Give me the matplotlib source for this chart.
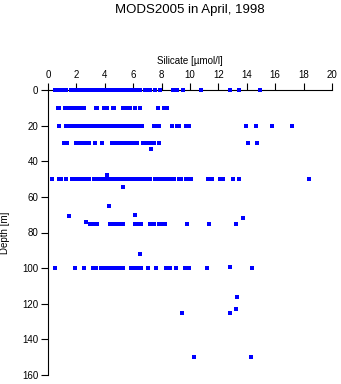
import numpy as np
import matplotlib
matplotlib.use('Agg')
import matplotlib.pyplot as plt

plt.rcParams['font.family'] = ['Liberation Sans', 'DejaVu Sans']

# Silicate readings [umol/l] grouped by sampling depth [m]
row_0 = [0.5, 0.6, 0.7, 0.8, 0.9, 1.0, 1.1, 1.2, 1.3,
         1.6, 1.7, 1.8, 1.9, 2.0, 2.1, 2.2, 2.3, 2.4, 2.5, 2.6, 2.7, 2.8, 2.9, 3.0, 3.1, 3.2,
         3.3, 3.4, 3.5, 3.6, 3.7, 3.8, 3.9, 4.0, 4.1, 4.2, 4.3, 4.4, 4.5, 4.6, 4.7, 4.8,
         4.9, 5.0, 5.1, 5.2, 5.3, 5.4, 5.5, 5.7, 5.85, 6.1, 6.25, 6.4, 6.5,
         6.85, 7.0, 7.2, 7.5, 7.9, 8.8, 9.1, 9.5, 10.75, 12.85, 13.45, 14.9]
row_10 = [0.7, 0.8, 1.2, 1.3, 1.45, 1.6, 1.85, 1.95, 2.05, 2.15, 2.25, 2.5,
          3.35, 3.45, 3.95, 4.05, 4.15, 4.55, 4.65, 5.25, 5.35, 5.5, 5.75,
          6.15, 6.45, 7.75, 8.15, 8.3, 8.4]
row_20 = [0.75, 1.3, 1.4, 1.5, 1.6, 1.7, 1.8, 1.9, 2.0, 2.1, 2.2, 2.3, 2.4, 2.5, 2.6,
          2.7, 2.8, 2.9, 3.0, 3.1, 3.2, 3.3, 3.4, 3.5, 3.6, 3.7, 3.8, 3.9, 4.0, 4.1,
          4.2, 4.3, 4.4, 4.5, 4.6, 4.7, 4.8, 4.9, 5.0, 5.1, 5.2, 5.3, 5.4, 5.5, 5.6,
          5.7, 5.8, 5.95, 6.1, 6.35, 6.5, 6.65, 7.45, 7.6, 7.8, 8.75, 9.1, 9.2,
          9.7, 9.9, 13.95, 14.65, 15.8, 17.2]
row_30 = [1.1, 1.2, 1.35, 1.95, 2.05, 2.15, 2.25, 2.4, 2.5, 2.6, 2.75, 2.9, 3.3, 3.8,
          4.5, 4.6, 4.7, 4.8, 4.95, 5.05, 5.2, 5.4, 5.5, 5.7, 6.0, 6.3, 6.7, 6.85,
          6.95, 7.2, 7.35, 7.45, 7.8, 14.1, 14.75]
row_50 = [0.25, 0.8, 0.9, 1.25, 1.7, 1.8, 1.9, 2.0, 2.1, 2.2, 2.3, 2.4, 2.5, 2.6, 2.7,
          2.8, 2.9, 3.25, 3.45, 3.55, 3.65, 3.75, 3.85, 3.95, 4.05, 4.15, 4.25, 4.35,
          4.45, 4.55, 4.65, 4.75, 4.85, 4.95, 5.05, 5.15, 5.25, 5.35, 5.45, 5.55,
          5.65, 5.75, 5.85, 5.95, 6.05, 6.15, 6.25, 6.35, 6.45, 6.55, 6.65, 6.75,
          6.85, 6.95, 7.05, 7.15, 7.5, 7.6, 7.7, 7.8, 7.9, 8.0, 8.1, 8.2, 8.3, 8.4,
          8.5, 8.65, 8.85, 9.2, 9.3, 9.4, 9.7, 9.95, 10.05, 11.3, 11.45, 11.55,
          12.1, 12.25, 12.35, 13.05, 13.45, 18.35]
row_75 = [2.95, 3.1, 3.3, 3.45, 4.4, 4.55, 4.7, 4.85, 5.0, 5.15, 5.3, 6.15, 6.35,
          6.55, 7.2, 7.45, 7.85, 8.0, 8.15, 8.25, 9.8, 11.35, 13.25]
row_100 = [0.5, 1.9, 2.5, 3.2, 3.4, 3.7, 3.8, 3.95, 4.05, 4.2, 4.35, 4.45, 4.65, 4.8,
           4.95, 5.05, 5.3, 5.85, 6.0, 6.1, 6.25, 6.4, 6.55, 7.05, 7.6, 8.3, 8.45,
           8.6, 9.0, 9.65, 9.8, 9.95, 11.2, 14.35]

# Samples at odd depths
single_si = [7.23, 4.13, 5.3, 4.3, 1.48, 6.15, 2.65, 13.7, 6.45, 12.85,
             13.3, 13.25, 9.45, 12.85, 10.3, 14.3]
single_depth = [33, 47.5, 54.5, 65, 71, 70, 74, 72, 92, 99.3,
                116, 123, 125, 125, 150, 150]

rows = {0: row_0, 10: row_10, 20: row_20, 30: row_30, 50: row_50,
        75: row_75, 100: row_100}
silicate = np.concatenate([np.array(v) for v in rows.values()] + [single_si])
depth = np.concatenate([np.full(len(v), d) for d, v in rows.items()] + [single_depth])

fig = plt.figure(figsize=(3.41, 3.84), dpi=100)
ax = fig.add_axes([48 / 341, 1 - 375 / 384, 284 / 341, 285 / 384])

ax.plot(silicate, depth, 's', color='#0000ff', markersize=2.4, markeredgewidth=0,
        antialiased=False, clip_on=False, zorder=3)

ax.set_xlim(0, 20)
ax.set_ylim(160, 0)
ax.set_xticks(np.arange(0, 21, 2))
ax.set_yticks(np.arange(0, 161, 20))
ax.xaxis.tick_top()
for side in ['right', 'bottom']:
    ax.spines[side].set_visible(False)
for side in ['top', 'left']:
    ax.spines[side].set_linewidth(0.8)
ax.tick_params(axis='both', direction='out', length=5, width=0.8,
               labelsize=7, pad=2)

fig.text(190 / 341, 1 - 9.5 / 384, 'MODS2005 in April, 1998',
         ha='center', va='center', fontsize=9.5)
fig.text(190 / 341, 1 - 60.5 / 384, 'Silicate [\u00b5mol/l]',
         ha='center', va='center', fontsize=7)
fig.text(5 / 341, 1 - 233 / 384, 'Depth [m]', rotation=90,
         ha='center', va='center', fontsize=7)

fig.savefig('out.png', dpi=100)
